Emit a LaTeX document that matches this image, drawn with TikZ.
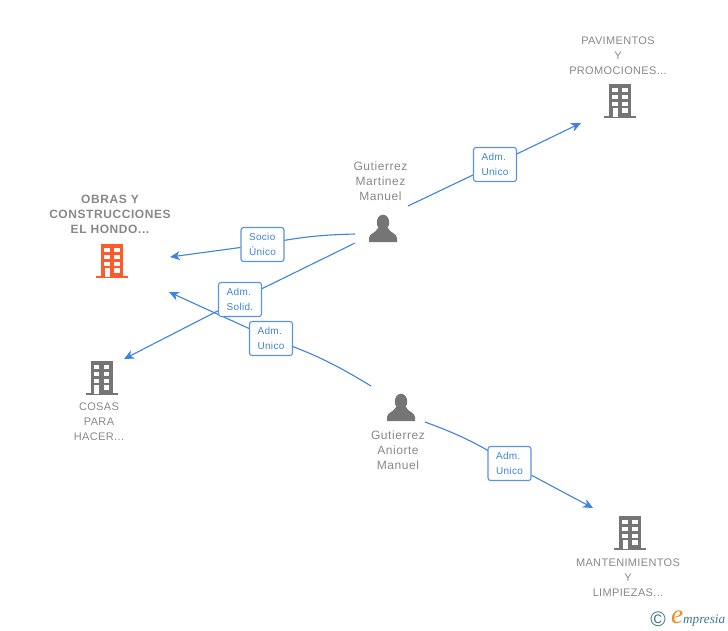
\documentclass[tikz,border=0pt]{standalone}
\usepackage{fontspec}
\setmainfont{Liberation Sans}
\newfontfamily\logofont{Liberation Serif}
\usetikzlibrary{arrows.meta,%
                positioning}
\definecolor{link-blue}{RGB}{62,130,228}
\definecolor{box-blue}{RGB}{90,146,228}
\definecolor{icon-gray}{RGB}{117,117,117}
\definecolor{label-gray}{RGB}{136,136,136}
\definecolor{obras-red}{RGB}{255,90,44}
\definecolor{logo-teal}{RGB}{62,120,140}
\definecolor{logo-orange}{RGB}{240,140,30}
\pgfdeclarelayer{background}
\pgfsetlayers{background,main}
\tikzset{
  x=1pt,
  y=-1pt,
  building/.pic={
    \fill (-11,-17) rectangle (11,16);
    \fill (-16,15) rectangle (16,17);
    \foreach \wy in {-13.5,-6.5,0.5}{
      \fill[white] (-8,\wy) rectangle (-2.5,\wy+4.5);
      \fill[white] (2,\wy) rectangle (7.5,\wy+4.5);
    }
    \fill[white] (-7.5,7) rectangle (-2.5,15.5);
    \fill[white] (2,7) rectangle (7.5,12);
  },
  person/.pic={
    \fill (0,-6.5) ellipse (6.2 and 7.8);
    \fill (-14,13) -- (-14,9) .. controls (-14,4.5) and (-7,4) .. (-5,-1) -- (5,-1)
      .. controls (7,4) and (14,4.5) .. (14,9) -- (14,13) -- cycle;
  },
  firmlabel/.style={align=center, text=label-gray, font=\fontsize{11}{15}\selectfont\addfontfeature{LetterSpace=3.2}},
  mainlabel/.style={align=center, text=label-gray, font=\fontsize{12}{15}\selectfont\bfseries\addfontfeature{LetterSpace=4.8}},
  personlabel/.style={align=center, text=label-gray, font=\fontsize{12}{15}\selectfont\addfontfeature{LetterSpace=4.6}},
  linkbox/.style={draw=box-blue, line width=1.1pt, rounded corners=2.5pt, fill=white,
    minimum width=43pt, minimum height=34pt, inner sep=0pt, align=left, text=link-blue,
    font=\fontsize{10}{15}\selectfont\addfontfeature{LetterSpace=3}},
  link/.style={draw=link-blue, line width=1.1pt},
  linkarrow/.style={link, -{Stealth[length=10pt,width=9pt,inset=3pt]}},
}
\begin{document}
\begin{tikzpicture}
  \useasboundingbox (0,0) rectangle (728,630);

  % Companies
  \pic[obras-red] at (112,261) {building};
  \pic[icon-gray] at (101.5,378) {building};
  \pic[icon-gray] at (620,101) {building};
  \pic[icon-gray] at (630,533) {building};

  \node[mainlabel] (obras) at (110,214.5) {OBRAS Y\\CONSTRUCCIONES\\EL HONDO...};
  \node[firmlabel] (cosas) at (99,422) {COSAS\\PARA\\HACER...};
  \node[firmlabel] (pavimentos) at (618,55.5) {PAVIMENTOS\\Y\\PROMOCIONES...};
  \node[firmlabel] (mantenimientos) at (628,577.5) {MANTENIMIENTOS\\Y\\LIMPIEZAS...};

  % Persons
  \pic[icon-gray] at (383,229) {person};
  \pic[icon-gray] at (401,408) {person};

  \node[personlabel] (martinez) at (380.5,181.5) {Gutierrez\\Martinez\\Manuel};
  \node[personlabel] (aniorte) at (398,450) {Gutierrez\\Aniorte\\Manuel};

  % Relation boxes
  \node[linkbox] (socio) at (262.5,244.5) {Socio\\Único};
  \node[linkbox] (solid) at (240,299.5) {Adm.\\Solid.};
  \node[linkbox] (unicoleft) at (271,338.5) {Adm.\\Unico};
  \node[linkbox] (unicotop) at (495,164.5) {Adm.\\Unico};
  \node[linkbox] (unicobottom) at (509.5,463.5) {Adm.\\Unico};

  % Free ends of the connectors
  \coordinate (m1) at (355,234);
  \coordinate (m2) at (355,243);
  \coordinate (m3) at (408,206);
  \coordinate (a1) at (371,386);
  \coordinate (a2) at (425,422);
  \coordinate (obrastip1) at (170,257);
  \coordinate (obrastip2) at (169,292);
  \coordinate (cosastip) at (124,359);
  \coordinate (pavtip) at (581,123);
  \coordinate (manttip) at (593,508);

  \begin{pgfonlayer}{background}
    \draw[link] (m1) to[bend right=5] (socio.center);
    \draw[linkarrow] (socio) -- (obrastip1);

    \draw[link] (m2) -- (solid.center);
    \draw[linkarrow] (solid) -- (cosastip);

    \draw[link] (a1) to[bend right=6] (unicoleft.center);
    \draw[linkarrow] (unicoleft) -- (obrastip2);

    \draw[link] (m3) -- (unicotop.center);
    \draw[linkarrow] (unicotop) -- (pavtip);

    \draw[link] (a2) to[bend left=6] (unicobottom.center);
    \draw[linkarrow] (unicobottom) -- (manttip);
  \end{pgfonlayer}

  % Logo
  \node[text=logo-teal, font=\fontsize{21}{21}\selectfont, inner sep=0pt] (copy) at (658,619) {\textcopyright};
  \node[inner sep=0pt, anchor=base west, font=\logofont\itshape] (logo) at (671,623)
    {\textcolor{logo-orange}{\fontsize{27}{27}\selectfont e}\textcolor{logo-teal}{\fontsize{13.2}{13.2}\selectfont mpresia}};
\end{tikzpicture}
\end{document}
